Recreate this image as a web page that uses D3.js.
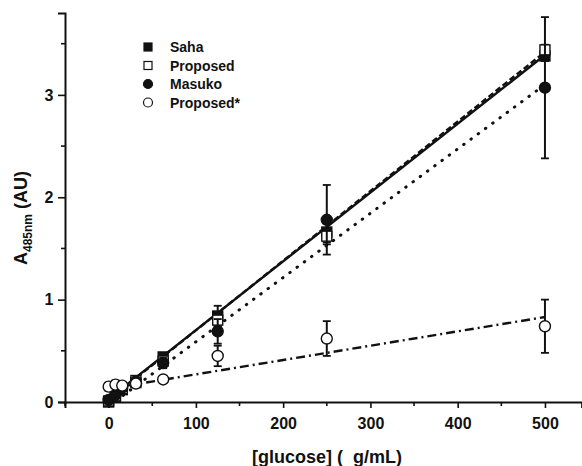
<!doctype html>
<html>
<head>
<meta charset="UTF-8">
<title>glucose calibration</title>
<script src="https://d3js.org/d3.v7.min.js"></script>
<style>
  body { margin: 0; background: #fff; }
  text { font-family: "Liberation Sans", Arial, sans-serif; fill: #111; }
</style>
</head>
<body>
<script>
// concentrations (ug/mL)
var conc = [0, 7.8, 15.6, 31.25, 62.5, 125, 250, 500];
var saha = [0.0, 0.05, 0.12, 0.19, 0.44, 0.84, 1.66, 3.38];
var sahaErr = [0.02, 0.02, 0.03, 0.03, 0.04, 0.1, 0.1, 0.05];
var proposed = [0.01, 0.06, 0.13, 0.21, 0.40, 0.80, 1.62, 3.44];
var proposedErr = [0.02, 0.02, 0.03, 0.03, 0.04, 0.06, 0.08, 0.05];
var masuko = [0.02, 0.07, 0.14, 0.20, 0.38, 0.69, 1.78, 3.07];
var masukoErr = [0.02, 0.03, 0.03, 0.04, 0.05, 0.12, 0.34, 0.69];
var propStar = [0.15, 0.17, 0.16, 0.18, 0.22, 0.45, 0.62, 0.74];
var propStarErr = [0.04, 0.04, 0.03, 0.03, 0.02, 0.1, 0.17, 0.26];
// fitted lines: [intercept, slope]
var fitSaha = [0.03, 0.00672];
var fitProposed = [0.02, 0.0068];
var fitMasuko = [-0.04, 0.00628];
var fitPropStar = [0.13, 0.0014];
var xTicks = [0, 100, 200, 300, 400, 500];
var yTicks = [0, 1, 2, 3];
var legendNames = ["Saha", "Proposed", "Masuko", "Proposed*"];

var W = 582, H = 466;
var svg = d3.select("body").append("svg").attr("width", W).attr("height", H);

var x = d3.scaleLinear().domain([-50, 542]).range([65, 581.6]);
var y = d3.scaleLinear().domain([0, 3.8]).range([402, 13]);

// axes
var xAxis = d3.axisBottom(x).tickValues(xTicks).tickSize(6).tickFormat(d3.format("d"));
var gx = svg.append("g").attr("transform", "translate(0,402)").call(xAxis);
var yAxis = d3.axisLeft(y).tickValues(yTicks).tickSize(7).tickFormat(d3.format("d"));
var gy = svg.append("g").attr("transform", "translate(65,0)").call(yAxis);
[gx, gy].forEach(function(g){
  g.select(".domain").attr("stroke", "#111").attr("stroke-width", 2);
  g.selectAll(".tick line").attr("stroke", "#111").attr("stroke-width", 1.6);
  g.selectAll(".tick text").attr("font-size", 16).attr("font-weight", "bold")
    .style("font-family", "'Liberation Sans', Arial, sans-serif").attr("fill", "#111");
});
gx.selectAll(".tick text").attr("dy", "1.1em");
gy.selectAll(".tick text").attr("dx", "-0.1em");
// minor ticks
svg.append("g").selectAll("line").data([-50, 50, 150, 250, 350, 450]).enter().append("line")
  .attr("x1", function(d){ return x(d); }).attr("x2", function(d){ return x(d); })
  .attr("y1", 402).attr("y2", 406).attr("stroke", "#111").attr("stroke-width", 1.6);
svg.append("g").selectAll("line").data([0.5, 1.5, 2.5, 3.5]).enter().append("line")
  .attr("y1", function(d){ return y(d); }).attr("y2", function(d){ return y(d); })
  .attr("x1", 61).attr("x2", 65).attr("stroke", "#111").attr("stroke-width", 1.6);

// fit lines
var fits = [
  {f: fitSaha, dash: null, cap: "butt"},
  {f: fitProposed, dash: "6,3", cap: "butt"},
  {f: fitMasuko, dash: "0.5,8.5", cap: "round"},
  {f: fitPropStar, dash: "9,4,2,4", cap: "butt"}
];
svg.append("g").selectAll("line").data(fits).enter().append("line")
  .attr("x1", x(0)).attr("x2", x(500))
  .attr("y1", function(d){ return y(d.f[0]); })
  .attr("y2", function(d){ return y(d.f[0] + d.f[1] * 500); })
  .attr("stroke", "#111").attr("stroke-width", function(d){ return d.cap == "round" ? 3 : 2.4; })
  .attr("stroke-linecap", function(d){ return d.cap; })
  .attr("stroke-dasharray", function(d){ return d.dash; });

var series = [
  {v: saha, e: sahaErr, shape: "sq", fill: "#111"},
  {v: proposed, e: proposedErr, shape: "sq", fill: "#fff"},
  {v: masuko, e: masukoErr, shape: "ci", fill: "#111"},
  {v: propStar, e: propStarErr, shape: "ci", fill: "#fff"}
];

series.forEach(function(s){
  var pts = conc.map(function(c, i){ return {c: c, v: s.v[i], e: s.e[i]}; });
  var g = svg.append("g");
  var eb = g.selectAll("g.eb").data(pts).enter().append("g");
  eb.append("line").attr("x1", function(d){ return x(d.c); }).attr("x2", function(d){ return x(d.c); })
    .attr("y1", function(d){ return y(d.v - d.e); }).attr("y2", function(d){ return y(d.v + d.e); })
    .attr("stroke", "#111").attr("stroke-width", 2);
  [-1, 1].forEach(function(sg){
    eb.append("line").attr("x1", function(d){ return x(d.c) - 4; }).attr("x2", function(d){ return x(d.c) + 4; })
      .attr("y1", function(d){ return y(d.v + sg * d.e); }).attr("y2", function(d){ return y(d.v + sg * d.e); })
      .attr("stroke", "#111").attr("stroke-width", 1.8);
  });
  if (s.shape == "sq") {
    g.selectAll("rect").data(pts).enter().append("rect")
      .attr("x", function(d){ return x(d.c) - 5; }).attr("y", function(d){ return y(d.v) - 5; })
      .attr("width", 10).attr("height", 10)
      .attr("fill", s.fill).attr("stroke", "#111").attr("stroke-width", 1.4);
  } else {
    g.selectAll("circle").data(pts).enter().append("circle")
      .attr("cx", function(d){ return x(d.c); }).attr("cy", function(d){ return y(d.v); })
      .attr("r", 5.5).attr("fill", s.fill).attr("stroke", "#111").attr("stroke-width", 1.4);
  }
});

// legend
var leg = svg.append("g");
var ly = [47, 65.5, 84, 102.5];
series.forEach(function(s, i){
  if (s.shape == "sq") {
    leg.append("rect").attr("x", 144).attr("y", ly[i] - 4).attr("width", 8).attr("height", 8)
      .attr("fill", s.fill).attr("stroke", "#111").attr("stroke-width", 1.2);
  } else {
    leg.append("circle").attr("cx", 148).attr("cy", ly[i]).attr("r", 4.5)
      .attr("fill", s.fill).attr("stroke", "#111").attr("stroke-width", 1.2);
  }
  leg.append("text").attr("x", 170).attr("y", ly[i] + 5).attr("font-size", 14)
    .attr("font-weight", "bold").text(legendNames[i]);
});

// axis titles
svg.append("text").attr("x", 327).attr("y", 463).attr("text-anchor", "middle")
  .attr("font-size", 18).attr("font-weight", "bold").style("white-space", "pre")
  .text("[glucose] (\u00a0\u00a0g/mL)");
var yt = svg.append("text").attr("transform", "translate(27,218) rotate(-90)")
  .attr("text-anchor", "middle").attr("font-size", 18).attr("font-weight", "bold");
yt.append("tspan").text("A");
yt.append("tspan").attr("font-size", 12).attr("dy", 5).text("485nm");
yt.append("tspan").attr("dy", -5).text("\u00a0(AU)");
</script>
</body>
</html>
